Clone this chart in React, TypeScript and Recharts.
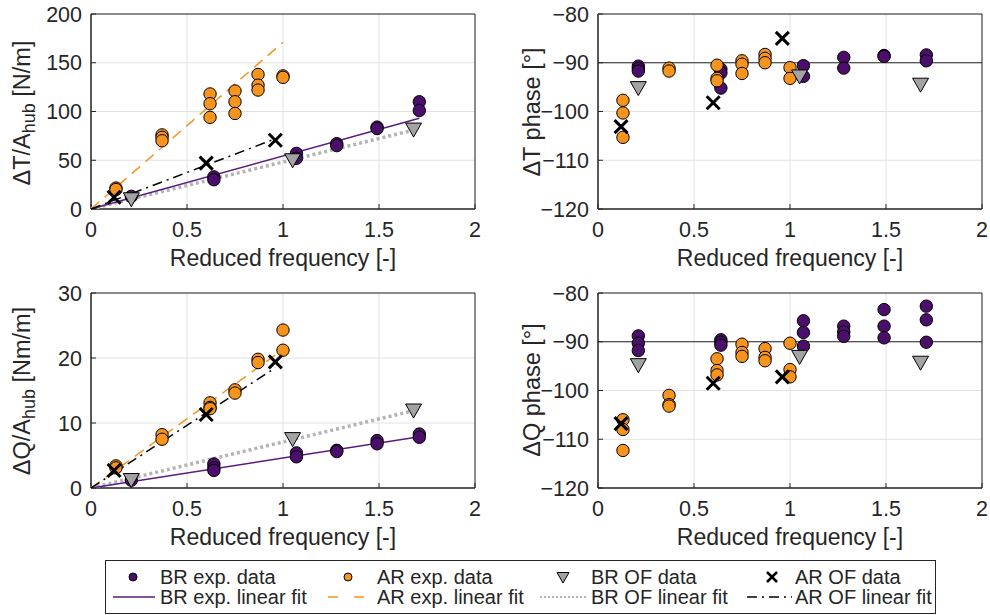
import { CartesianGrid, ReferenceArea, ReferenceLine, Scatter, ScatterChart, XAxis, YAxis } from 'recharts';

const FONT = '"Liberation Sans", Arial, Helvetica, sans-serif';
const INK = '#262626';
const PURPLE = '#4b0f6b';
const PURPLE_LINE = '#5b1a80';
const ORANGE = '#f7941d';
const GREY = '#a3a3a3';
const GREY_LINE = '#b4b4b4';

type Pt = [number, number];

const xTicks = [0, 0.5, 1, 1.5, 2];
const ampTTicks = [0, 50, 100, 150, 200];
const ampQTicks = [0, 10, 20, 30];
const phaseTicks = [-120, -110, -100, -90, -80];

// thrust amplitude
const brExpT: Pt[] = [[0.21, 13], [0.64, 33], [0.64, 30], [1.07, 57], [1.07, 52], [1.28, 67], [1.28, 65], [1.49, 84], [1.49, 82.5], [1.71, 110], [1.71, 101]];
const arExpT: Pt[] = [[0.13, 21.5], [0.13, 20], [0.37, 76], [0.37, 73.5], [0.37, 70], [0.62, 118], [0.62, 108], [0.62, 94], [0.75, 121], [0.75, 110], [0.75, 98], [0.87, 138], [0.87, 127], [0.87, 122], [1.0, 136.5], [1.0, 135]];
const brOfT: Pt[] = [[0.21, 10.5], [1.05, 50.5], [1.68, 82]];
const arOfT: Pt[] = [[0.12, 12], [0.6, 47], [0.96, 70.5]];
const brExpFitT: Pt[] = [[0, 0], [1.71, 93]];
const arExpFitT: Pt[] = [[0, 0], [1.0, 171]];
const brOfFitT: Pt[] = [[0, 0], [1.68, 81]];
const arOfFitT: Pt[] = [[0, 0], [0.96, 72]];

// thrust phase
const brExpTP: Pt[] = [[0.21, -90.7], [0.21, -91.2], [0.21, -91.7], [0.64, -91.3], [0.64, -92.1], [0.64, -95.2], [1.07, -90.6], [1.07, -92.8], [1.28, -88.9], [1.28, -91.1], [1.49, -88.5], [1.49, -88.7], [1.71, -88.4], [1.71, -89.6]];
const arExpTP: Pt[] = [[0.13, -97.7], [0.13, -100.3], [0.13, -105.3], [0.37, -91.1], [0.37, -91.7], [0.62, -90.5], [0.62, -93.2], [0.62, -93.7], [0.75, -89.6], [0.75, -90.3], [0.75, -92.2], [0.87, -88.3], [0.87, -89.1], [0.87, -90], [1.0, -91], [1.0, -93.2]];
const brOfTP: Pt[] = [[0.21, -95.1], [1.05, -92.7], [1.68, -94.4]];
const arOfTP: Pt[] = [[0.12, -103.1], [0.6, -98.2], [0.96, -85]];

// torque amplitude
const brExpQ: Pt[] = [[0.21, 1.2], [0.64, 3.7], [0.64, 3.1], [0.64, 2.7], [1.07, 5.4], [1.07, 4.8], [1.28, 5.8], [1.28, 5.6], [1.49, 7.3], [1.49, 6.8], [1.71, 8.3], [1.71, 7.8]];
const arExpQ: Pt[] = [[0.13, 3.4], [0.13, 3.1], [0.37, 8.2], [0.37, 7.5], [0.62, 13.1], [0.62, 12.4], [0.62, 12.2], [0.75, 15.1], [0.75, 14.6], [0.87, 19.8], [0.87, 19.3], [1.0, 24.3], [1.0, 21.2]];
const brOfQ: Pt[] = [[0.21, 1.3], [1.05, 7.6], [1.68, 12]];
const arOfQ: Pt[] = [[0.12, 2.7], [0.6, 11.3], [0.96, 19.4]];
const brExpFitQ: Pt[] = [[0, 0], [1.71, 7.9]];
const arExpFitQ: Pt[] = [[0, 0], [1.0, 21.3]];
const brOfFitQ: Pt[] = [[0, 0], [1.68, 11.9]];
const arOfFitQ: Pt[] = [[0, 0], [0.96, 18.5]];

// torque phase
const brExpQP: Pt[] = [[0.21, -88.8], [0.21, -90.3], [0.21, -91.8], [0.64, -89.6], [0.64, -90.1], [0.64, -90.7], [1.07, -85.7], [1.07, -88.1], [1.07, -90.9], [1.28, -86.8], [1.28, -88], [1.28, -88.9], [1.49, -83.4], [1.49, -86.8], [1.49, -89.2], [1.71, -82.7], [1.71, -85.5], [1.71, -90.1]];
const arExpQP: Pt[] = [[0.13, -106], [0.13, -108], [0.13, -112.3], [0.37, -101], [0.37, -102.9], [0.37, -103.2], [0.62, -93.5], [0.62, -95.9], [0.62, -96.8], [0.75, -90.5], [0.75, -92.2], [0.75, -93], [0.87, -91.4], [0.87, -93.2], [0.87, -93.9], [1.0, -90.3], [1.0, -95.7], [1.0, -97.2]];
const brOfQP: Pt[] = [[0.21, -94.7], [1.05, -93], [1.68, -94.2]];
const arOfQP: Pt[] = [[0.12, -106.8], [0.6, -98.5], [0.96, -97.2]];

const toXY = (pts: Pt[]) => pts.map(([x, y]) => ({ x, y }));
const fmt = (v: number) => String(v).replace('-', '\u2212');

const dot = (fill: string, r = 6.2) => (p: any) => (
  <circle cx={p.cx} cy={p.cy} r={r} fill={fill} stroke="#000" strokeWidth={1} />
);
const tri = (s = 8) => (p: any) => (
  <polygon
    points={`${p.cx - s},${p.cy - s * 0.75} ${p.cx + s},${p.cy - s * 0.75} ${p.cx},${p.cy + s}`}
    fill={GREY}
    stroke="#000"
    strokeWidth={1}
  />
);
const cross = (s = 6.5, w = 3) => (p: any) => (
  <g stroke="#000" strokeWidth={w}>
    <line x1={p.cx - s} y1={p.cy - s} x2={p.cx + s} y2={p.cy + s} />
    <line x1={p.cx - s} y1={p.cy + s} x2={p.cx + s} y2={p.cy - s} />
  </g>
);
const noShape = () => <g />;

interface Fit {
  pts: Pt[];
  stroke: string;
  width: number;
  dash?: string;
}

interface PanelProps {
  left: number;
  top: number;
  width: number;
  height: number;
  margin: { top: number; right: number; left: number; bottom: number };
  yWidth: number;
  xHeight: number;
  yDomain: [number, number];
  yTicks: number[];
  yLabel: [string, string, string];
  labelX: number;
  labelY: number;
  brExp: Pt[];
  arExp: Pt[];
  brOf: Pt[];
  arOf: Pt[];
  fits?: Fit[];
  refY?: number;
}

const Panel = (props: PanelProps) => {
  const { yLabel, labelX, labelY } = props;
  const yLabelContent = () => {
    const cx = labelX;
    const cy = labelY;
    return (
      <text
        x={cx}
        y={cy}
        transform={`rotate(-90 ${cx} ${cy})`}
        textAnchor="middle"
        dominantBaseline="central"
        fill={INK}
        fontSize={23.5}
        fontFamily={FONT}
      >
        <tspan>{yLabel[0]}</tspan>
        {yLabel[1] && (
          <tspan dy={7} fontSize={18}>
            {yLabel[1]}
          </tspan>
        )}
        <tspan dy={yLabel[1] ? -7 : 0}>{yLabel[2]}</tspan>
      </text>
    );
  };
  const xLabelContent = (p: any) => {
    const vb = p.viewBox;
    return (
      <text
        x={vb.x + vb.width / 2}
        y={vb.y + 49}
        textAnchor="middle"
        dominantBaseline="central"
        fill={INK}
        fontSize={23}
        fontFamily={FONT}
      >
        Reduced frequency [-]
      </text>
    );
  };
  return (
    <div style={{ position: 'absolute', left: props.left, top: props.top }}>
      <ScatterChart width={props.width} height={props.height} margin={props.margin}>
        <CartesianGrid stroke="#e2e2e2" strokeWidth={1} />
        <XAxis
          type="number"
          dataKey="x"
          domain={[0, 2]}
          ticks={xTicks}
          interval={0}
          height={props.xHeight}
          stroke={INK}
          tickSize={-5}
          tickMargin={18}
          tick={{ fill: INK, fontSize: 21.5, fontFamily: FONT }}
          label={xLabelContent}
        />
        <YAxis
          type="number"
          dataKey="y"
          domain={props.yDomain}
          ticks={props.yTicks}
          interval={0}
          allowDataOverflow
          width={props.yWidth}
          stroke={INK}
          tickSize={-5}
          tickMargin={14}
          tickFormatter={fmt}
          tick={{ fill: INK, fontSize: 21.5, fontFamily: FONT }}
          label={yLabelContent}
        />
        <ReferenceArea
          x1={0}
          x2={2}
          y1={props.yDomain[0]}
          y2={props.yDomain[1]}
          fill="none"
          fillOpacity={0}
          stroke={INK}
          strokeWidth={1}
        />
        {props.refY !== undefined && (
          <ReferenceLine y={props.refY} stroke={INK} strokeWidth={1.2} />
        )}
        {(props.fits || []).map((f, i) => (
          <Scatter
            key={i}
            data={toXY(f.pts)}
            line={{ stroke: f.stroke, strokeWidth: f.width, strokeDasharray: f.dash }}
            shape={noShape}
            isAnimationActive={false}
          />
        ))}
        <Scatter data={toXY(props.brExp)} shape={dot(PURPLE)} isAnimationActive={false} />
        <Scatter data={toXY(props.arExp)} shape={dot(ORANGE)} isAnimationActive={false} />
        <Scatter data={toXY(props.brOf)} shape={tri()} isAnimationActive={false} />
        <Scatter data={toXY(props.arOf)} shape={cross()} isAnimationActive={false} />
      </ScatterChart>
    </div>
  );
};

const fitsT: Fit[] = [
  { pts: brOfFitT, stroke: GREY_LINE, width: 3.5, dash: '3 3' },
  { pts: brExpFitT, stroke: PURPLE_LINE, width: 1.5 },
  { pts: arExpFitT, stroke: ORANGE, width: 1.5, dash: '11 7' },
  { pts: arOfFitT, stroke: '#000', width: 1.5, dash: '10 5 2 5' },
];
const fitsQ: Fit[] = [
  { pts: brOfFitQ, stroke: GREY_LINE, width: 3.5, dash: '3 3' },
  { pts: brExpFitQ, stroke: PURPLE_LINE, width: 1.5 },
  { pts: arExpFitQ, stroke: ORANGE, width: 1.5, dash: '11 7' },
  { pts: arOfFitQ, stroke: '#000', width: 1.5, dash: '10 5 2 5' },
];

const Legend = () => {
  const t = { fill: INK, fontSize: 20, fontFamily: FONT, dominantBaseline: 'central' as const };
  const r1 = 22;
  const r2 = 42;
  return (
    <svg width={850} height={60} style={{ position: 'absolute', left: 100, top: 555 }}>
      <rect x={5.5} y={5.5} width={830} height={53} fill="#fff" stroke={INK} strokeWidth={1} />
      {dot(PURPLE, 4)({ cx: 33, cy: r1 })}
      <text x={60} y={r1} {...t}>BR exp. data</text>
      {dot(ORANGE, 4)({ cx: 248, cy: r1 })}
      <text x={277} y={r1} {...t}>AR exp. data</text>
      {tri(6)({ cx: 463, cy: r1 })}
      <text x={491} y={r1} {...t}>BR OF data</text>
      {cross(5, 2.5)({ cx: 672, cy: r1 })}
      <text x={695} y={r1} {...t}>AR OF data</text>

      <line x1={13} y1={r2} x2={55} y2={r2} stroke={PURPLE_LINE} strokeWidth={1.5} />
      <text x={60} y={r2} {...t}>BR exp. linear fit</text>
      <line x1={228} y1={r2} x2={265} y2={r2} stroke={ORANGE} strokeWidth={1.5} strokeDasharray="10 16" />
      <text x={277} y={r2} {...t}>AR exp. linear fit</text>
      <line x1={440} y1={r2} x2={487} y2={r2} stroke={GREY_LINE} strokeWidth={2} strokeDasharray="2 2" />
      <text x={491} y={r2} {...t}>BR OF linear fit</text>
      <line x1={647} y1={r2} x2={692} y2={r2} stroke="#000" strokeWidth={1.5} strokeDasharray="10 5 2 5" />
      <text x={695} y={r2} {...t}>AR OF linear fit</text>
    </svg>
  );
};

export default function App() {
  return (
    <div style={{ position: 'absolute', left: 0, top: 0, width: 990, height: 615, background: '#fff' }}>
      <Panel
        left={0}
        top={0}
        width={490}
        height={280}
        margin={{ top: 14, right: 15, left: 0, bottom: 10 }}
        yWidth={91}
        xHeight={61}
        yDomain={[0, 200]}
        yTicks={ampTTicks}
        yLabel={['\u0394T/A', 'hub', ' [N/m]']}
        labelX={22}
        labelY={113}
        brExp={brExpT}
        arExp={arExpT}
        brOf={brOfT}
        arOf={arOfT}
        fits={fitsT}
      />
      <Panel
        left={490}
        top={0}
        width={500}
        height={280}
        margin={{ top: 14, right: 8, left: 0, bottom: 10 }}
        yWidth={108}
        xHeight={61}
        yDomain={[-120, -80]}
        yTicks={phaseTicks}
        yLabel={['\u0394T phase [\u00b0]', '', '']}
        labelX={42}
        labelY={112}
        brExp={brExpTP}
        arExp={arExpTP}
        brOf={brOfTP}
        arOf={arOfTP}
        refY={-90}
      />
      <Panel
        left={0}
        top={280}
        width={490}
        height={280}
        margin={{ top: 13, right: 15, left: 0, bottom: 10 }}
        yWidth={91}
        xHeight={62}
        yDomain={[0, 30]}
        yTicks={ampQTicks}
        yLabel={['\u0394Q/A', 'hub', ' [Nm/m]']}
        labelX={22}
        labelY={111}
        brExp={brExpQ}
        arExp={arExpQ}
        brOf={brOfQ}
        arOf={arOfQ}
        fits={fitsQ}
      />
      <Panel
        left={490}
        top={280}
        width={500}
        height={280}
        margin={{ top: 13, right: 8, left: 0, bottom: 10 }}
        yWidth={108}
        xHeight={62}
        yDomain={[-120, -80]}
        yTicks={phaseTicks}
        yLabel={['\u0394Q phase [\u00b0]', '', '']}
        labelX={42}
        labelY={110}
        brExp={brExpQP}
        arExp={arExpQP}
        brOf={brOfQP}
        arOf={arOfQP}
        refY={-90}
      />
      <Legend />
    </div>
  );
}
